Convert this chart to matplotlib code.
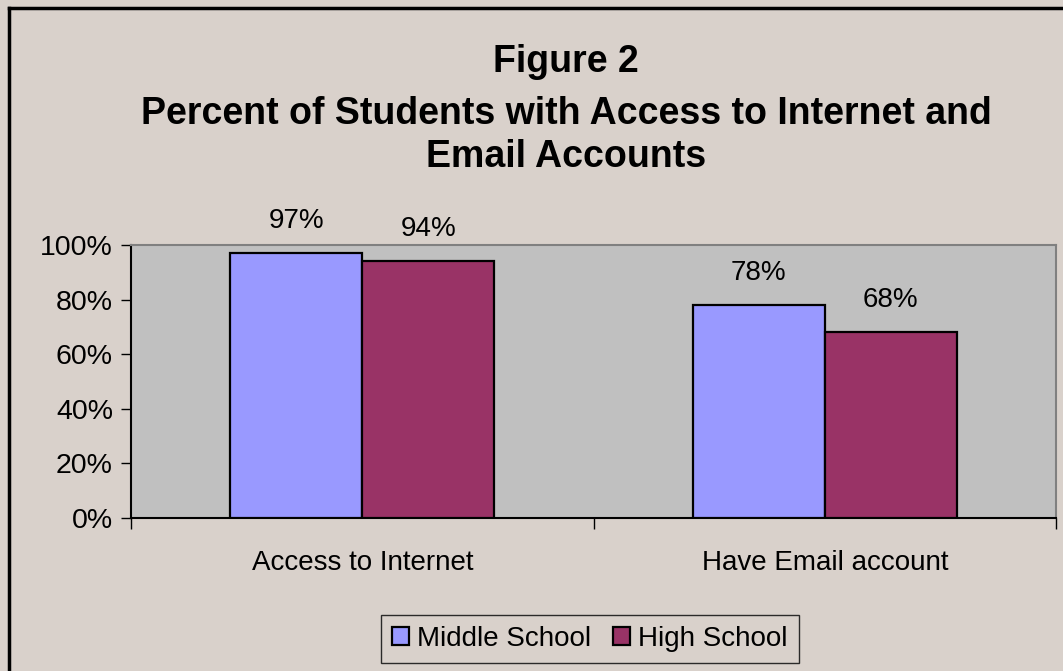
import matplotlib.pyplot as plt
from matplotlib.lines import Line2D
from matplotlib.ticker import FixedLocator

# Data
categories = ['Access to Internet', 'Have Email account']
middle_school = [97, 78]
high_school = [94, 68]
series_names = ['Middle School', 'High School']
y_ticks = [0, 20, 40, 60, 80, 100]

plt.rcParams['font.family'] = ['Liberation Sans', 'DejaVu Sans']

bg = '#D9D1CB'
fig = plt.figure(figsize=(10.63, 6.71), dpi=100, facecolor=bg)
ax = fig.add_axes([131/1063, 1 - 518/671, 925/1063, 273/671])
ax.set_facecolor('#C0C0C0')

x = [0, 1]
w = 0.285
b1 = ax.bar([i - w/2 for i in x], middle_school, w, color='#9999FF',
            edgecolor='black', linewidth=1.6, label=series_names[0], zorder=3)
b2 = ax.bar([i + w/2 for i in x], high_school, w, color='#993366',
            edgecolor='black', linewidth=1.6, label=series_names[1], zorder=3)

for bars, vals in [(b1, middle_school), (b2, high_school)]:
    for bar, v in zip(bars, vals):
        ax.annotate(f'{v}%', (bar.get_x() + bar.get_width()/2, v),
                    xytext=(0, 23), textcoords='offset points',
                    ha='center', va='center', fontsize=20)

ax.set_xlim(-0.5, 1.5)
ax.set_ylim(0, 100)
ax.set_yticks(y_ticks)
ax.set_yticklabels([f'{t}%' for t in y_ticks], fontsize=20.5)
ax.set_xticks(x)
ax.set_xticklabels(categories, fontsize=20)
ax.tick_params(axis='x', length=0, pad=23)
ax.tick_params(axis='y', direction='out', length=7, width=1, pad=6)
# category separator ticks
ax.xaxis.set_minor_locator(FixedLocator([-0.5, 0.5, 1.5]))
ax.tick_params(axis='x', which='minor', direction='out', length=8, width=1)

ax.spines['left'].set_color('black')
ax.spines['bottom'].set_color('black')
ax.spines['top'].set_color('#808080')
ax.spines['right'].set_color('#808080')
for s in ax.spines.values():
    s.set_linewidth(1.5)

# Title
tx = 566/1063
fig.text(tx, 1 - 62/671, 'Figure 2', ha='center', va='center',
         fontsize=27, fontweight='bold')
fig.text(tx, 1 - 114/671, 'Percent of Students with Access to Internet and',
         ha='center', va='center', fontsize=27, fontweight='bold')
fig.text(tx, 1 - 157/671, 'Email Accounts', ha='center', va='center',
         fontsize=27, fontweight='bold')

# Legend
leg = fig.legend(loc='center', bbox_to_anchor=(590/1063, 1 - 639/671), ncol=2,
                 fontsize=20, frameon=True, fancybox=False, handlelength=0.6,
                 handleheight=0.6, handletextpad=0.3, columnspacing=0.8,
                 borderpad=0.4)
leg.get_frame().set_edgecolor('black')
leg.get_frame().set_facecolor(bg)
leg.get_frame().set_linewidth(1)

# Outer chart border (left and top visible)
fig.add_artist(Line2D([9/1063, 9/1063], [0, 1 - 8/671], color='black',
                      linewidth=2.5, transform=fig.transFigure))
fig.add_artist(Line2D([9/1063, 1], [1 - 8/671, 1 - 8/671], color='black',
                      linewidth=2.5, transform=fig.transFigure))

fig.savefig('out.png', dpi=100, facecolor=bg)
